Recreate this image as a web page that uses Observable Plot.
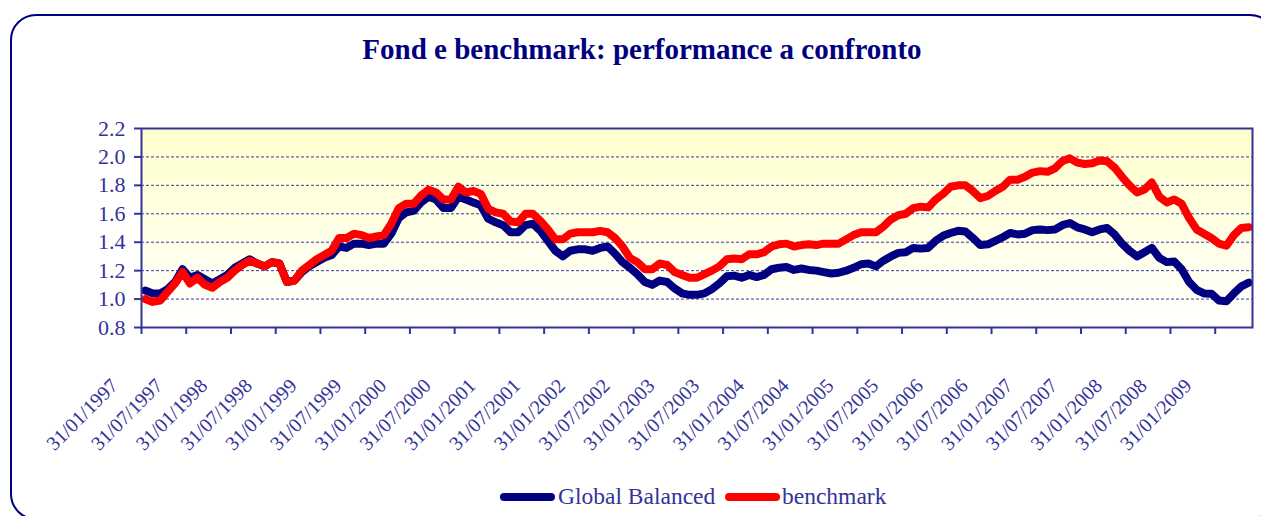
<!DOCTYPE html>
<html>
<head>
<meta charset="utf-8">
<script src="https://cdn.jsdelivr.net/npm/d3@7"></script>
<script src="https://cdn.jsdelivr.net/npm/@observablehq/plot@0.6"></script>
<style>
  html, body { margin: 0; padding: 0; background: #ffffff; width: 1261px; height: 516px; overflow: hidden; }
  #wrap { position: relative; width: 1261px; height: 516px; font-family: "Liberation Serif", "Times New Roman", serif; }
  #border { position: absolute; left: 10px; top: 14px; width: 1266px; height: 506px; border: 2px solid #000080; border-radius: 26px; box-sizing: border-box; }
  #title { position: absolute; left: 0; width: 1284px; top: 35px; text-align: center; font-size: 29px; line-height: 29px; font-weight: bold; color: #000080; }
  #chart { position: absolute; left: 0; top: 90px; }
  .leg { position: absolute; top: 484px; font-size: 23.5px; line-height: 24px; color: #333399; }
  .sw { position: absolute; top: 493px; height: 8px; border-radius: 4px; }
  #chart svg text { font-family: "Liberation Serif", "Times New Roman", serif; }
</style>
</head>
<body>
<div id="wrap">
  <div id="border"></div>
  <div id="title">Fond e benchmark: performance a confronto</div>
  <div id="chart"></div>
  <div class="sw" style="left:500px;width:55px;background:#000080"></div>
  <div class="leg" style="left:558px">Global Balanced</div>
  <div class="sw" style="left:725px;width:55px;background:#ff0000"></div>
  <div class="leg" style="left:782px">benchmark</div>
</div>
<script>
// Monthly values, Jan 1997 – May 2009
const globalBalanced = [
  1.06, 1.04, 1.04, 1.07, 1.12, 1.21, 1.15, 1.17, 1.14, 1.11, 1.14, 1.17,
  1.22, 1.25, 1.28, 1.25, 1.23, 1.26, 1.25, 1.12, 1.13, 1.19, 1.23, 1.26,
  1.29, 1.31, 1.37, 1.36, 1.39, 1.39, 1.38, 1.39, 1.39, 1.46, 1.57, 1.61,
  1.62, 1.68, 1.72, 1.70, 1.64, 1.64, 1.72, 1.70, 1.68, 1.66, 1.565, 1.54,
  1.52, 1.47, 1.47, 1.52, 1.53, 1.48, 1.41, 1.34, 1.30, 1.34, 1.35, 1.35,
  1.34, 1.36, 1.37, 1.32, 1.26, 1.22, 1.175, 1.12, 1.10, 1.13, 1.12, 1.075,
  1.04, 1.03, 1.03, 1.04, 1.07, 1.11, 1.16, 1.165, 1.15, 1.17, 1.155, 1.17,
  1.21, 1.22, 1.225, 1.205, 1.215, 1.205, 1.20, 1.19, 1.18, 1.185, 1.20, 1.22,
  1.245, 1.25, 1.23, 1.27, 1.30, 1.325, 1.33, 1.36, 1.355, 1.36, 1.41, 1.445,
  1.465, 1.48, 1.475, 1.43, 1.38, 1.385, 1.41, 1.435, 1.465, 1.455, 1.46, 1.485,
  1.49, 1.485, 1.49, 1.52, 1.535, 1.505, 1.49, 1.47, 1.49, 1.50, 1.455, 1.39,
  1.34, 1.30, 1.33, 1.36, 1.29, 1.26, 1.265, 1.21, 1.12, 1.065, 1.04, 1.037,
  0.99, 0.985, 1.04, 1.09, 1.115
];
const benchmark = [
  1.00, 0.98, 0.99, 1.05, 1.11, 1.19, 1.11, 1.15, 1.10, 1.08, 1.12, 1.15,
  1.20, 1.24, 1.27, 1.25, 1.23, 1.26, 1.25, 1.12, 1.13, 1.20, 1.24, 1.28,
  1.31, 1.34, 1.43, 1.43, 1.46, 1.45, 1.43, 1.44, 1.45, 1.53, 1.64, 1.67,
  1.67, 1.73, 1.77, 1.75, 1.70, 1.70, 1.79, 1.75, 1.76, 1.74, 1.635, 1.61,
  1.60, 1.545, 1.54, 1.60, 1.60, 1.55, 1.49, 1.42, 1.42, 1.46, 1.47, 1.47,
  1.47, 1.48, 1.47, 1.43, 1.37, 1.29, 1.26, 1.21, 1.21, 1.25, 1.24, 1.19,
  1.17, 1.15, 1.15, 1.175, 1.20, 1.23, 1.28, 1.285, 1.28, 1.315, 1.315, 1.33,
  1.37, 1.385, 1.39, 1.37, 1.38, 1.385, 1.38, 1.39, 1.39, 1.39, 1.42, 1.45,
  1.47, 1.47, 1.47, 1.51, 1.56, 1.59, 1.60, 1.64, 1.65, 1.645, 1.70, 1.74,
  1.79, 1.80, 1.80, 1.76, 1.71, 1.725, 1.76, 1.79, 1.84, 1.84, 1.86, 1.89,
  1.90, 1.895, 1.92, 1.97, 1.99, 1.96, 1.95, 1.955, 1.975, 1.97, 1.925, 1.86,
  1.80, 1.75, 1.77, 1.82, 1.72, 1.68, 1.70, 1.67, 1.57, 1.49, 1.46, 1.43,
  1.39, 1.375, 1.45, 1.50, 1.505
];
const tickLabels = [
  "31/01/1997", "31/07/1997", "31/01/1998", "31/07/1998", "31/01/1999", "31/07/1999",
  "31/01/2000", "31/07/2000", "31/01/2001", "31/07/2001", "31/01/2002", "31/07/2002",
  "31/01/2003", "31/07/2003", "31/01/2004", "31/07/2004", "31/01/2005", "31/07/2005",
  "31/01/2006", "31/07/2006", "31/01/2007", "31/07/2007", "31/01/2008", "31/07/2008",
  "31/01/2009"
];
const yTicks = [0.8, 1.0, 1.2, 1.4, 1.6, 1.8, 2.0, 2.2];
const gridValues = [1.0, 1.2, 1.4, 1.6, 1.8, 2.0];

const gbData = globalBalanced.map((v, i) => ({i, v}));
const bmData = benchmark.map((v, i) => ({i, v}));
const tickPos = tickLabels.map((_, k) => k * 6 - 0.5);

const axisColor = "#333399";
const serif = "'Liberation Serif', 'Times New Roman', serif";
const plot = Plot.plot({
  width: 1261,
  height: 380,
  marginLeft: 141,
  marginRight: 9,
  marginTop: 38,
  marginBottom: 143,
  style: {fontFamily: serif, background: "transparent", overflow: "visible"},
  x: {domain: [-0.5, globalBalanced.length - 0.5], axis: null},
  y: {domain: [0.8, 2.2], axis: null},
  marks: [
    Plot.frame({fill: "url(#bgGrad)"}),
    Plot.gridY(gridValues, {stroke: "#3a3aa8", strokeOpacity: 1, strokeWidth: 1, strokeDasharray: "3,2"}),
    Plot.line(gbData, {x: "i", y: "v", stroke: "#000080", strokeWidth: 8, strokeLinejoin: "round", strokeLinecap: "round"}),
    Plot.line(bmData, {x: "i", y: "v", stroke: "#ff0000", strokeWidth: 8, strokeLinejoin: "round", strokeLinecap: "round"}),
    Plot.frame({stroke: axisColor, strokeWidth: 2}),
    Plot.axisY({ticks: yTicks, tickFormat: d3.format(".1f"), tickSize: 7, tickPadding: 9, stroke: axisColor, strokeWidth: 2, fill: axisColor, fontSize: 22, fontFamily: serif, label: null}),
    // tick marks only
    Plot.axisX({ticks: tickPos, tickFormat: () => "", tickSize: 7, stroke: axisColor, strokeWidth: 2, label: null}),
    // rotated labels only
    Plot.axisX({ticks: tickPos, tickFormat: (d) => tickLabels[Math.round((d + 0.5) / 6)], tickSize: 0, tickPadding: 55, tickRotate: -45, dx: -27, fill: axisColor, fontSize: 20, fontFamily: serif, label: null})
  ]
});
const svg = d3.select(plot);
const defs = svg.insert("defs", ":first-child");
const grad = defs.append("linearGradient").attr("id", "bgGrad").attr("x1", 0).attr("y1", 0).attr("x2", 0).attr("y2", 1);
grad.append("stop").attr("offset", "0%").attr("stop-color", "#ffffcc");
grad.append("stop").attr("offset", "100%").attr("stop-color", "#ffffff");
document.getElementById("chart").appendChild(plot);
</script>
</body>
</html>
